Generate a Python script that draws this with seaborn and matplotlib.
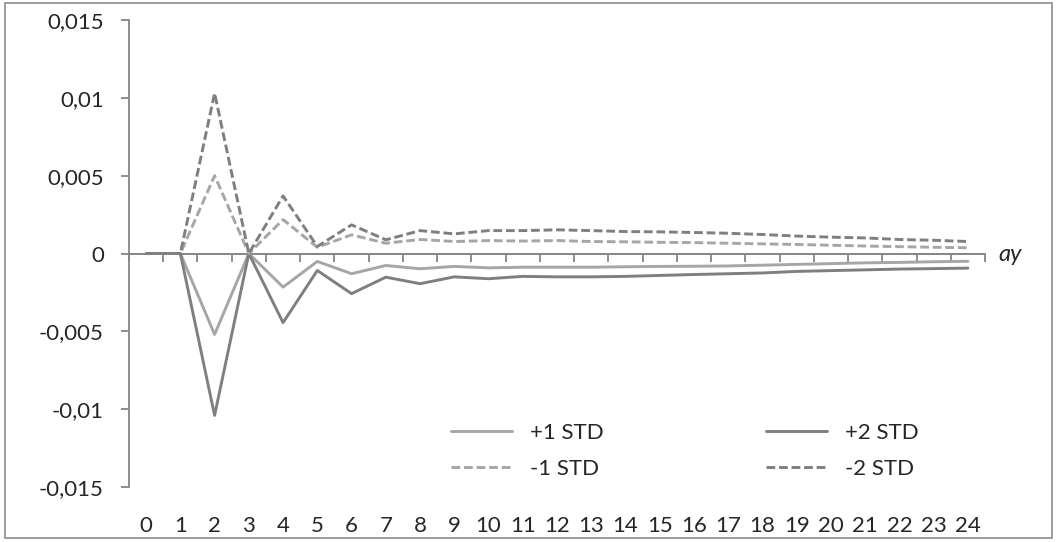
import numpy as np
import pandas as pd
import matplotlib
matplotlib.use("Agg")
import matplotlib.pyplot as plt
import seaborn as sns
from matplotlib.patches import Rectangle

periods = list(range(25))
plus1 = [0, 0, -0.0052, 0, -0.00216, -0.00051, -0.0013, -0.00077, -0.00098, -0.00083,
         -0.00092, -0.00088, -0.00088, -0.00088, -0.00085, -0.00083, -0.00082, -0.0008,
         -0.00075, -0.0007, -0.00065, -0.0006, -0.00057, -0.00053, -0.0005]
plus2 = [0, 0, -0.0104, 0, -0.00444, -0.00109, -0.00258, -0.00152, -0.00194, -0.0015,
         -0.00162, -0.00147, -0.0015, -0.0015, -0.00147, -0.00141, -0.00135, -0.0013,
         -0.00125, -0.00115, -0.0011, -0.00105, -0.001, -0.00097, -0.00094]
minus1 = [0, 0, 0.005, 0, 0.00218, 0.0004, 0.0012, 0.00066, 0.0009, 0.00077,
          0.00083, 0.0008, 0.00083, 0.00077, 0.00075, 0.00072, 0.0007, 0.00066,
          0.00062, 0.00058, 0.00053, 0.00048, 0.00044, 0.0004, 0.00037]
minus2 = [0, 0, 0.0103, 0, 0.0037, 0.00045, 0.00184, 0.00088, 0.00147, 0.00126,
          0.00147, 0.00147, 0.00152, 0.00147, 0.00141, 0.00139, 0.00135, 0.0013,
          0.00122, 0.00112, 0.00105, 0.001, 0.0009, 0.00085, 0.00077]
series_names = ["+1 STD", "+2 STD", "-1 STD", "-2 STD"]
y_ticks = [-0.015, -0.01, -0.005, 0, 0.005, 0.01, 0.015]
y_tick_labels = ["-0,015", "-0,01", "-0,005", "0", "0,005", "0,01", "0,015"]

df = pd.DataFrame({
    "period": periods * 4,
    "value": plus1 + plus2 + minus1 + minus2,
    "series": sum([[n] * len(periods) for n in series_names], []),
})

sns.set_style("white")
plt.rcParams["font.family"] = ["Lato", "DejaVu Sans"]
FS = 16

fig = plt.figure(figsize=(10.59, 5.42), dpi=100)
ax = fig.add_axes([129 / 1059, 1 - 487 / 542, (985 - 129) / 1059, (487 - 20) / 542])

light = "#A6A6A6"
dark = "#7F7F7F"
axis_col = "#868686"
palette = {"+1 STD": light, "+2 STD": dark, "-1 STD": light, "-2 STD": dark}
dashes = {"+1 STD": "", "+2 STD": "", "-1 STD": (3, 1.3), "-2 STD": (3, 1.3)}

ax.axhline(0, color=axis_col, linewidth=1.3, zorder=1)

sns.lineplot(data=df, x="period", y="value", hue="series", style="series",
             hue_order=series_names, style_order=series_names,
             palette=palette, dashes=dashes, linewidth=2.1, ax=ax, legend=True,
             zorder=2)

ax.set_xlim(-0.5, 24.5)
ax.set_ylim(-0.015, 0.015)
ax.set_yticks(y_ticks)
ax.set_yticklabels(y_tick_labels)
ax.set_xticks(periods)
ax.set_xticklabels([str(p) for p in periods])
ax.set_xlabel("")
ax.set_ylabel("")

for s in ["top", "right", "bottom"]:
    ax.spines[s].set_visible(False)
ax.spines["left"].set_color(axis_col)
ax.spines["left"].set_linewidth(1.3)
ax.tick_params(axis="y", direction="out", length=6, width=1.3, color=axis_col,
               labelsize=FS, pad=12, left=True)
ax.tick_params(axis="x", length=0, labelsize=FS, pad=21)

# tick marks between categories on the zero axis
sec = ax.secondary_xaxis(0.5)
sec.set_alignment("bottom")
sec.set_xticks(np.arange(-0.5, 25, 1.0))
sec.tick_params(axis="x", direction="out", length=6, width=1.3, color=axis_col,
                labelbottom=False, labeltop=False)
sec.spines["bottom"].set_color(axis_col)
sec.spines["bottom"].set_linewidth(1.3)

ax.text(1.029, 0.497, "ay", transform=ax.transAxes, fontsize=17, style="italic",
        ha="center", va="center")

handles, labels = ax.get_legend_handles_labels()
hmap = dict(zip(labels, handles))
order = ["+1 STD", "-1 STD", "+2 STD", "-2 STD"]
leg = ax.legend([hmap[k] for k in order], order, ncol=2, loc="upper left",
                bbox_to_anchor=(0.376, 0.137), frameon=False, fontsize=FS,
                handlelength=2.75, columnspacing=7.3, handletextpad=0.8,
                labelspacing=0.73, borderaxespad=0, borderpad=0)

fig.patches.append(Rectangle((5 / 1059, 1 - 538 / 542), 1047 / 1059, 535 / 542,
                             transform=fig.transFigure, fill=False,
                             edgecolor="#8C8C8C", linewidth=1.2))

fig.savefig("out.png", dpi=100)
